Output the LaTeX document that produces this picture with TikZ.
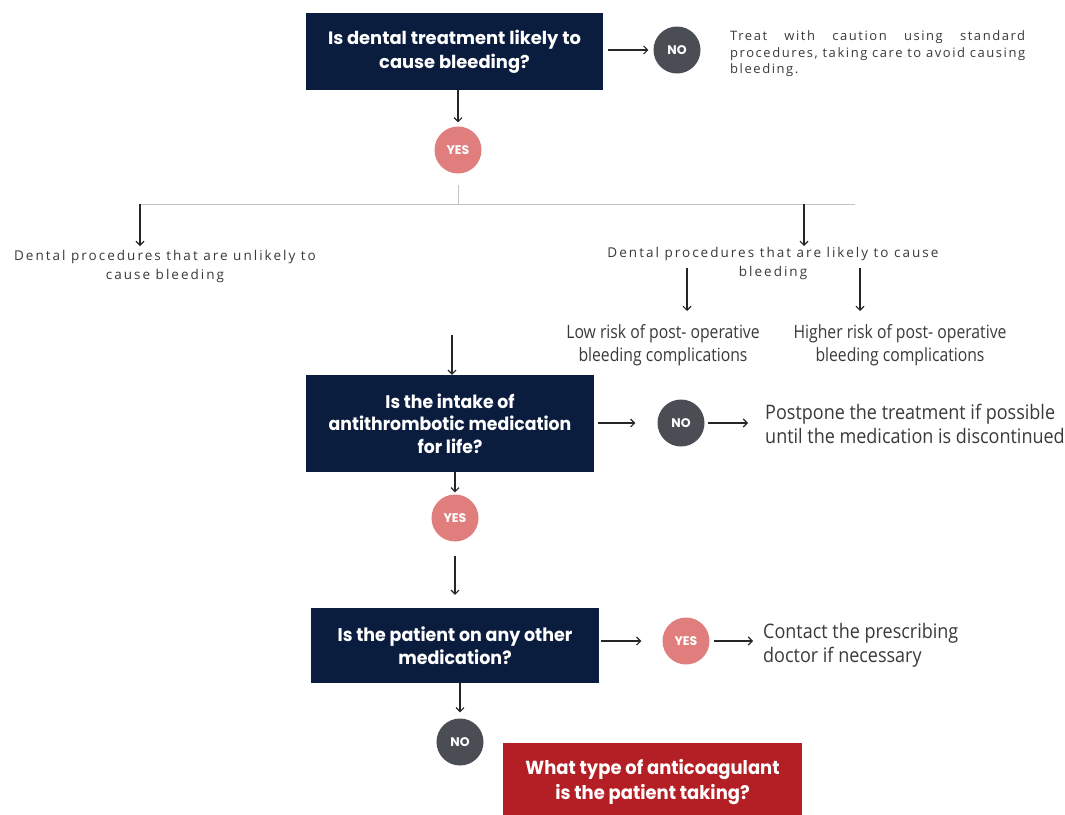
\documentclass[tikz,border=0pt]{standalone}
\usepackage{fontspec}
\setmainfont{Open Sans}
\usetikzlibrary{arrows.meta}
\newfontfamily\titlef{Poppins}
\newfontfamily\titlec[FakeStretch=0.95]{Poppins}
\newfontfamily\spacedf[LetterSpace=15]{Open Sans}
\newfontfamily\treatf[LetterSpace=12]{Open Sans}
\newfontfamily\narrowf[FakeStretch=0.86]{Open Sans}
\newfontfamily\narrowg[FakeStretch=0.9]{Open Sans}
\definecolor{navy}{HTML}{0B1D3F}
\definecolor{pink}{HTML}{E07E7E}
\definecolor{dgray}{HTML}{4A4D53}
\definecolor{dred}{HTML}{B31F24}
\definecolor{txtgray}{HTML}{3A3A3A}
\definecolor{lgray}{HTML}{C4C4C4}
\tikzset{
  qbox/.style={rectangle, fill=navy, text=white, inner sep=0pt, align=center},
  circ/.style={circle, minimum size=47pt, inner sep=0pt, text=white,
    font=\titlef\bfseries\fontsize{12.5}{14}\selectfont},
  arr/.style={-{Straight Barb[length=4pt,width=8pt]}, line width=1.1pt, black!85},
  gline/.style={lgray, line width=1pt},
  small/.style={text=txtgray, align=center, font=\spacedf\fontsize{13.5}{19}\selectfont},
  medium/.style={text=txtgray, align=center, font=\narrowf\fontsize{18.3}{23}\selectfont},
  large/.style={text=txtgray, align=left, inner sep=0pt, font=\narrowg\fontsize{20}{23.5}\selectfont},
}
\begin{document}
\begin{tikzpicture}[x=1pt,y=-1pt]
\useasboundingbox[fill=white] (0,0) rectangle (1065,814);

% first question
\node[qbox, minimum width=297pt, minimum height=77pt,
  font=\titlef\bfseries\fontsize{17.9}{24}\selectfont] (q1) at (454.5,51.5)
  {Is dental treatment likely to\\cause bleeding?};
\node[circ, fill=dgray] (no1) at (677,50) {NO};
\node[text=txtgray, anchor=north west, align=left,
  font=\treatf\fontsize{13}{16.5}\selectfont, inner sep=0pt] (treat) at (730,30.5)
  {\makebox[295pt][s]{Treat with caution using standard}\\
   \makebox[295pt][s]{procedures, taking care to avoid causing}\\
   bleeding.};
\node[circ, fill=pink] (yes1) at (458,150) {YES};

\draw[arr, shorten <=5pt, shorten >=5pt] (q1.east |- no1) -- (no1.west);
\draw[arr, shorten >=4pt] (q1.south -| yes1) -- (yes1.north);

% branching
\coordinate (br) at (458,204);
\coordinate (bl) at (140,204);
\coordinate (brr) at (855,204);
\coordinate (bx) at (804,204);
\draw[gline] ([yshift=-11pt]yes1.south) -- (br);
\draw[gline] (bl) -- (brr);

\node[small] (unl) at (165,266) {Dental procedures that are unlikely to\\cause bleeding};
\node[small] (lik) at (773,263) {Dental procedures that are likely to cause\\bleeding};
\draw[arr] (bl) -- ++(0,42);
\draw[arr] (bx) -- ++(0,42);

\coordinate (la) at (687,268);
\coordinate (ha) at (860,268);
\node[medium] (low) at (663,345.5) {Low risk of post- operative\\bleeding complications};
\node[medium] (high) at (900,345.5) {Higher risk of post- operative\\bleeding complications};
\draw[arr] (la) -- ++(0,43);
\draw[arr] (ha) -- ++(0,43);

% second question
\node[qbox, minimum width=288pt, minimum height=97pt,
  font=\titlec\bfseries\fontsize{18.2}{22.5}\selectfont] (q2) at (450,423.5)
  {Is the intake of\\antithrombotic medication\\for life?};
\coordinate (qa) at (452,335);
\draw[arr] (qa) -- (q2.north -| qa);
\node[circ, fill=dgray] (no2) at (681,423) {NO};
\draw[arr, shorten <=4pt, shorten >=22pt] (q2.east |- no2) -- (no2.west);
\node[large, anchor=west] (post) at (765,424)
  {Postpone the treatment if possible\\until the medication is discontinued};
\draw[arr, shorten <=3pt, shorten >=17pt] (no2.east) -- (no2.east -| post.west);
\node[circ, fill=pink] (yes2) at (455,518) {YES};
\draw[arr, shorten >=2pt] (q2.south -| yes2) -- (yes2.north);

% third question
\node[qbox, minimum width=288pt, minimum height=75pt,
  font=\titlec\bfseries\fontsize{18.4}{23}\selectfont] (q3) at (455,645.5)
  {Is the patient on any other\\medication?};
\draw[arr, shorten <=14pt, shorten >=13pt] (yes2.south) -- (q3.north -| yes2);
\node[circ, fill=pink] (yes3) at (686,641) {YES};
\draw[arr, shorten <=2pt, shorten >=21pt] (q3.east |- yes3) -- (yes3.west);
\node[large, anchor=west] (cont) at (763,645.5)
  {Contact the prescribing\\doctor if necessary};
\draw[arr, shorten <=4pt, shorten >=10pt] (yes3.east) -- (yes3.east -| cont.west);

\node[circ, fill=dgray] (no3) at (460,742) {NO};
\draw[arr, shorten >=6pt] (q3.south -| no3) -- (no3.north);

% final (box runs past the lower edge, as in the reference)
\node[qbox, fill=dred, minimum width=299pt, minimum height=79pt,
  font=\titlec\bfseries\fontsize{18.9}{25}\selectfont] (q4) at (652.5,782.5)
  {What type of anticoagulant\\is the patient taking?};
\end{tikzpicture}
\end{document}
